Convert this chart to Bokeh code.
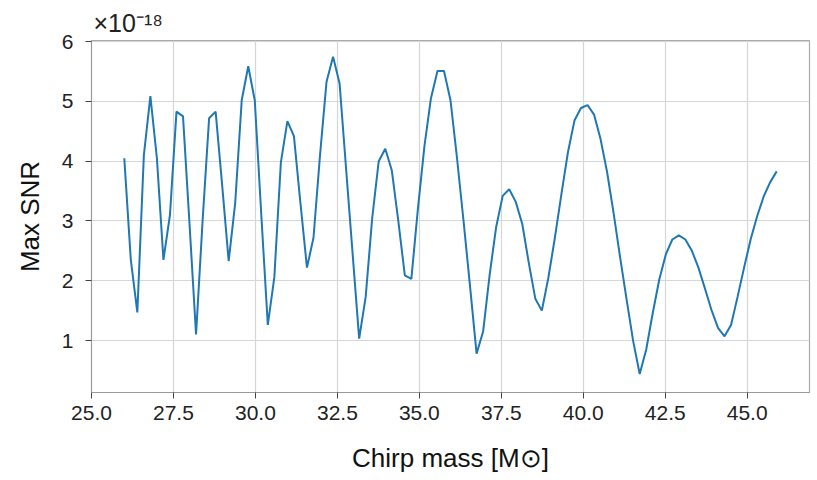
import numpy as np
from bokeh.plotting import figure
from bokeh.models import Range1d, FixedTicker
from bokeh.embed import file_html
from bokeh.resources import INLINE

# Chirp-mass grid (101 samples) and Max SNR values in units of 1e-18
chirp_start, chirp_stop, n_samples = 26.0, 45.9, 101
max_snr = [
    4.05, 2.35, 1.47, 4.10, 5.09, 4.05, 2.35, 3.10, 4.83, 4.75,
    2.95, 1.10, 3.00, 4.72, 4.83, 3.60, 2.33, 3.30, 5.02, 5.59,
    5.02, 3.10, 1.26, 2.06, 3.98, 4.67, 4.42, 3.30, 2.22, 2.72,
    4.10, 5.33, 5.75, 5.30, 3.87, 2.45, 1.03, 1.73, 3.05, 4.00,
    4.21, 3.85, 3.00, 2.09, 2.03, 3.20, 4.25, 5.05, 5.51, 5.51,
    5.02, 4.05, 3.00, 1.90, 0.78, 1.15, 2.10, 2.90, 3.42, 3.53,
    3.32, 2.95, 2.30, 1.70, 1.50, 2.05, 2.72, 3.45, 4.15, 4.68,
    4.89, 4.94, 4.78, 4.37, 3.82, 3.13, 2.39, 1.68, 0.99, 0.44,
    0.85, 1.46, 2.02, 2.44, 2.69, 2.76, 2.69, 2.50, 2.22, 1.87,
    1.51, 1.21, 1.07, 1.26, 1.73, 2.22, 2.69, 3.08, 3.41, 3.65,
    3.83,
]
chirp_mass = np.linspace(chirp_start, chirp_stop, n_samples)

x_ticks = [25.0, 27.5, 30.0, 32.5, 35.0, 37.5, 40.0, 42.5, 45.0]
y_ticks = [1, 2, 3, 4, 5, 6]
multiplier_text = "\u00d710\u207b\u00b9\u2078"

FONT = "Liberation Sans"
W, H = 813, 480

p = figure(width=W, height=H, output_backend="svg", toolbar_location=None,
           x_range=Range1d(25.0, 46.9), y_range=Range1d(0.13, 6.02),
           min_border_left=91, min_border_right=4, min_border_top=40,
           min_border_bottom=88)

p.line(chirp_mass, max_snr, line_color="#1f77b4", line_width=2)

p.title.text = multiplier_text
p.title.align = "left"
p.title.offset = 2
p.title.standoff = 8
p.title.text_font = FONT
p.title.text_font_size = "25px"
p.title.text_font_style = "normal"
p.title.text_color = "#222222"

p.xaxis.ticker = FixedTicker(ticks=x_ticks)
p.yaxis.ticker = FixedTicker(ticks=y_ticks)
p.xaxis.major_label_overrides = {t: f"{t:.1f}" for t in x_ticks}

for ax in (p.xaxis[0], p.yaxis[0]):
    ax.major_label_text_font = FONT
    ax.major_label_text_font_size = "21px"
    ax.major_label_text_color = "#222222"
    ax.axis_label_text_font = FONT
    ax.axis_label_text_font_size = "26px"
    ax.axis_label_text_font_style = "normal"
    ax.axis_label_text_color = "#111111"
    ax.minor_tick_line_color = None
    ax.major_tick_out = 6
    ax.major_tick_in = 0
    ax.major_tick_line_color = "#444444"
    ax.axis_line_color = "#999999"

p.xaxis.axis_label = "Chirp mass [M\u2299]"
p.yaxis.axis_label = "Max SNR"
p.xaxis.major_label_standoff = 7
p.yaxis.major_label_standoff = 12
p.xaxis.axis_label_standoff = 20
p.yaxis.axis_label_standoff = 14

p.xgrid.grid_line_color = "#d6d6d6"
p.ygrid.grid_line_color = "#d6d6d6"
p.xgrid.grid_line_width = 1.2
p.ygrid.grid_line_width = 1.2
p.outline_line_color = "#aaaaaa"
p.outline_line_width = 1.2
p.background_fill_color = "white"

open("out.html", "w").write(file_html(p, INLINE))
